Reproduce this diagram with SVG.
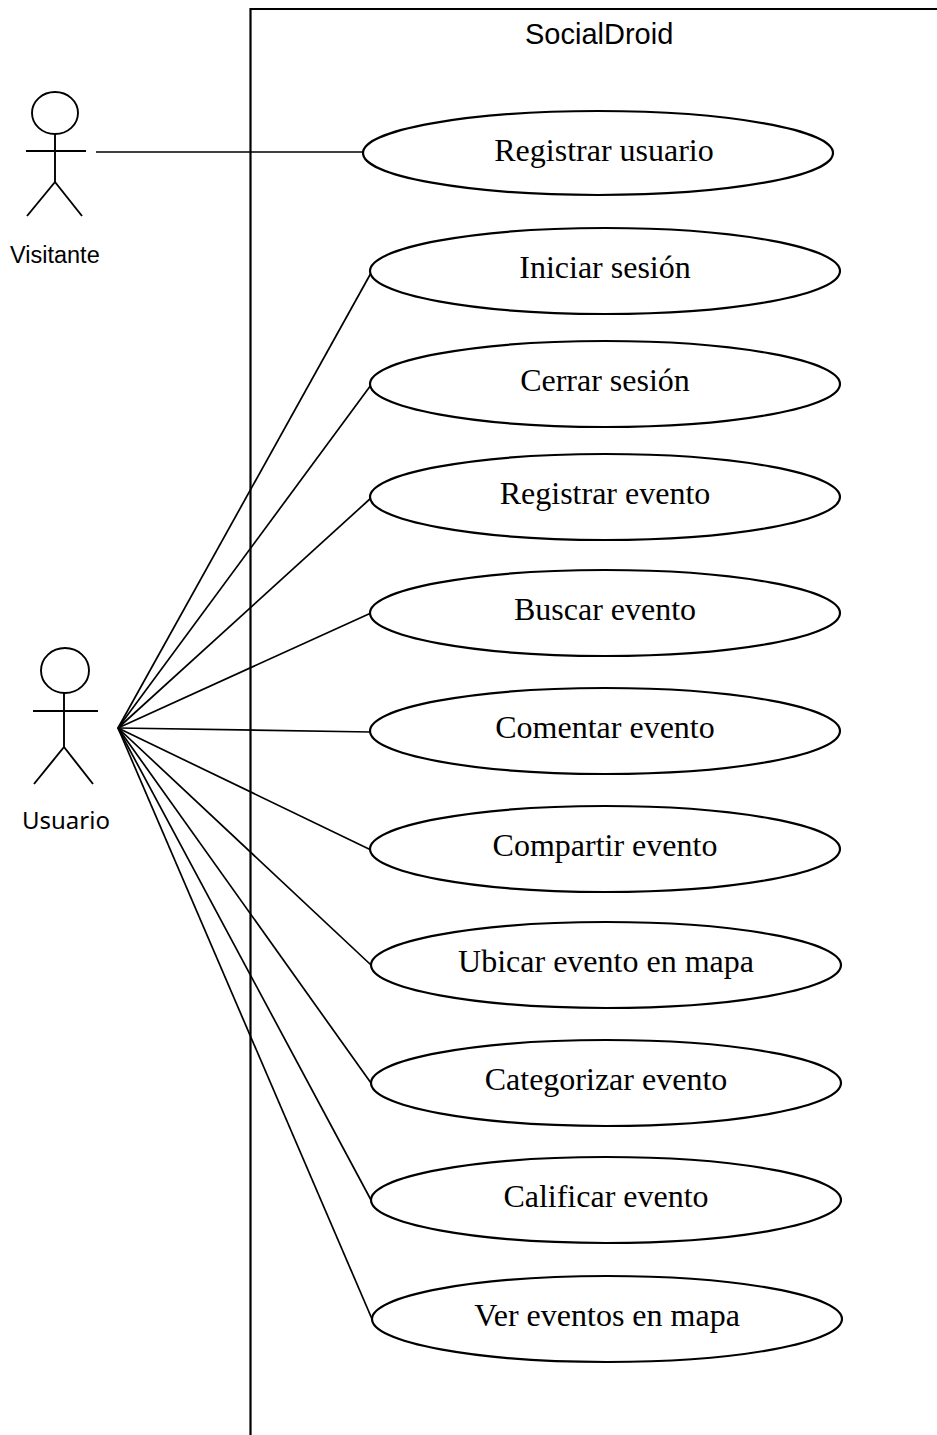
<svg xmlns="http://www.w3.org/2000/svg" width="937" height="1435" viewBox="0 0 937 1435">
  <style>
    .ln { stroke: #000; stroke-width: 1.7; fill: none; stroke-linecap: butt; }
    .box { stroke: #000; stroke-width: 2.2; fill: none; }
    .uc { stroke: #000; stroke-width: 2.2; fill: #fff; }
    .uct { font-family: "Liberation Serif", "Times New Roman", serif; font-size: 32px; fill: #000; text-anchor: middle; }
    .sys { font-family: "Liberation Sans", Arial, sans-serif; font-size: 29px; fill: #000; }
    .act { stroke: #000; stroke-width: 1.9; fill: none; }
  </style>

  <!-- system boundary -->
  <g id="system">
    <path class="box" d="M250.5 1435 V9 H937"/>
    <text class="sys" x="525" y="44">SocialDroid</text>
  </g>

  <!-- associations -->
  <g id="connectors">
    <line class="ln" x1="96" y1="152" x2="363" y2="152"/>
    <line class="ln" x1="118" y1="728" x2="371" y2="273"/>
    <line class="ln" x1="118" y1="728" x2="371" y2="385"/>
    <line class="ln" x1="118" y1="728" x2="371" y2="498"/>
    <line class="ln" x1="118" y1="728" x2="371" y2="613"/>
    <line class="ln" x1="118" y1="728" x2="371" y2="732"/>
    <line class="ln" x1="118" y1="728" x2="371" y2="850"/>
    <line class="ln" x1="118" y1="728" x2="371" y2="965"/>
    <line class="ln" x1="118" y1="728" x2="371" y2="1083"/>
    <line class="ln" x1="118" y1="728" x2="371" y2="1200"/>
    <line class="ln" x1="118" y1="728" x2="372" y2="1319"/>
  </g>

  <!-- actors -->
  <g id="actor-visitante">
    <ellipse class="act" cx="55" cy="113" rx="23" ry="21"/>
    <line class="act" x1="55" y1="134" x2="55" y2="182"/>
    <line class="act" x1="26" y1="151" x2="86" y2="151"/>
    <line class="act" x1="55" y1="182" x2="27" y2="216"/>
    <line class="act" x1="55" y1="182" x2="82" y2="216"/>
    <text x="10" y="263" font-family="Liberation Sans, Arial, sans-serif" font-size="23.5">Visitante</text>
  </g>

  <g id="actor-usuario">
    <ellipse class="act" cx="65" cy="670.5" rx="24" ry="22.5"/>
    <line class="act" x1="64" y1="693" x2="64" y2="747"/>
    <line class="act" x1="33" y1="711" x2="98" y2="711"/>
    <line class="act" x1="64" y1="747" x2="34" y2="784"/>
    <line class="act" x1="64" y1="747" x2="93" y2="784"/>
    <text x="22" y="829" font-family="Noto Sans, sans-serif" font-size="24">Usuario</text>
  </g>

  <!-- use cases -->
  <g id="uc-registrar-usuario">
    <ellipse class="uc" cx="598" cy="153" rx="235" ry="42"/>
    <text class="uct" x="604" y="161">Registrar usuario</text>
  </g>
  <g id="uc-iniciar-sesion">
    <ellipse class="uc" cx="605" cy="271" rx="235" ry="43"/>
    <text class="uct" x="605" y="278">Iniciar sesión</text>
  </g>
  <g id="uc-cerrar-sesion">
    <ellipse class="uc" cx="605" cy="384" rx="235" ry="43"/>
    <text class="uct" x="605" y="391">Cerrar sesión</text>
  </g>
  <g id="uc-registrar-evento">
    <ellipse class="uc" cx="605" cy="497" rx="235" ry="43"/>
    <text class="uct" x="605" y="504">Registrar evento</text>
  </g>
  <g id="uc-buscar-evento">
    <ellipse class="uc" cx="605" cy="613" rx="235" ry="43"/>
    <text class="uct" x="605" y="620">Buscar evento</text>
  </g>
  <g id="uc-comentar-evento">
    <ellipse class="uc" cx="605" cy="731" rx="235" ry="43"/>
    <text class="uct" x="605" y="738">Comentar evento</text>
  </g>
  <g id="uc-compartir-evento">
    <ellipse class="uc" cx="605" cy="849" rx="235" ry="43"/>
    <text class="uct" x="605" y="856">Compartir evento</text>
  </g>
  <g id="uc-ubicar-evento">
    <ellipse class="uc" cx="606" cy="965" rx="235" ry="43"/>
    <text class="uct" x="606" y="972">Ubicar evento en mapa</text>
  </g>
  <g id="uc-categorizar-evento">
    <ellipse class="uc" cx="606" cy="1083" rx="235" ry="43"/>
    <text class="uct" x="606" y="1090">Categorizar evento</text>
  </g>
  <g id="uc-calificar-evento">
    <ellipse class="uc" cx="606" cy="1200" rx="235" ry="43"/>
    <text class="uct" x="606" y="1207">Calificar evento</text>
  </g>
  <g id="uc-ver-eventos">
    <ellipse class="uc" cx="607" cy="1319" rx="235" ry="43"/>
    <text class="uct" x="607" y="1326">Ver eventos en mapa</text>
  </g>
</svg>
